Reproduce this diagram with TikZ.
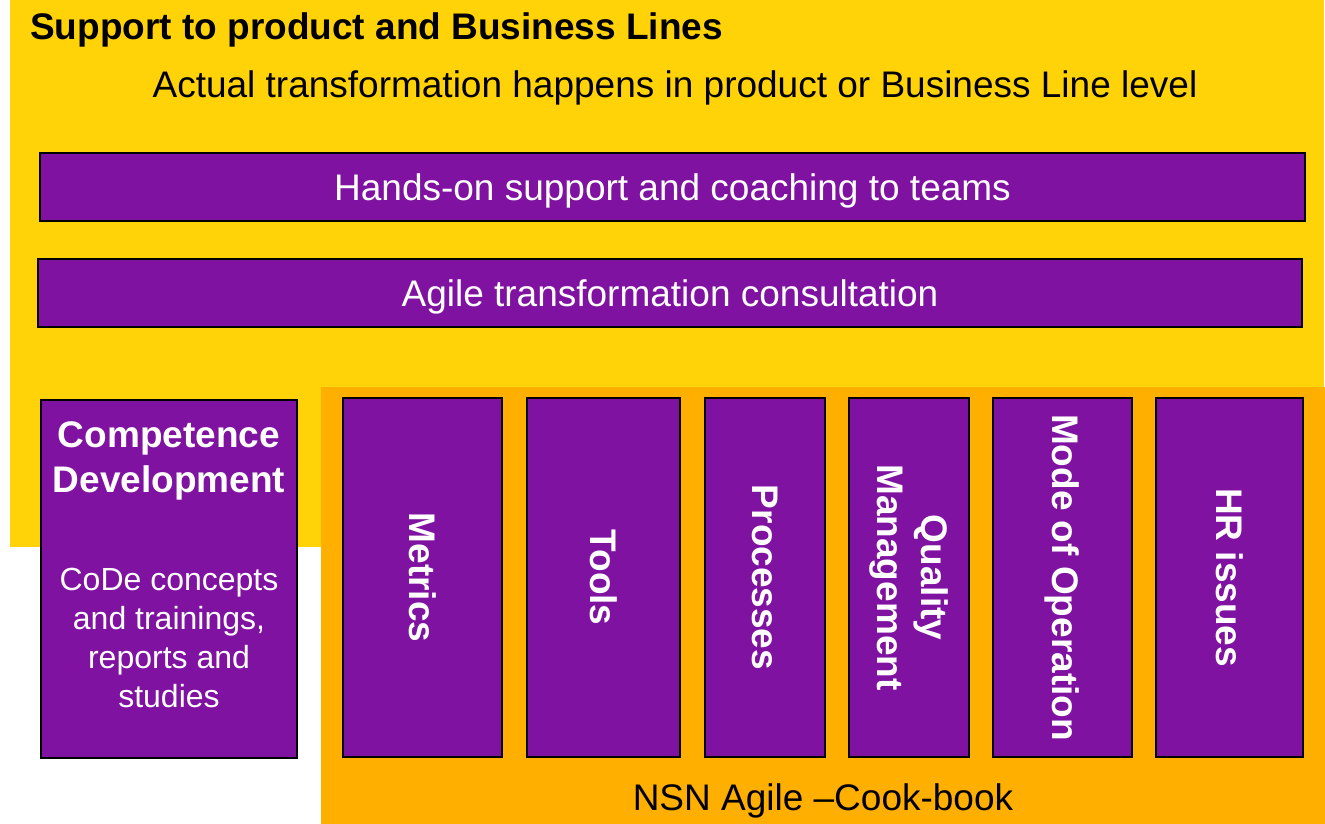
\documentclass[tikz,border=0pt]{standalone}
\usepackage{fontspec}
\setmainfont{Liberation Sans}
\definecolor{banneryellow}{RGB}{255,211,8}
\definecolor{cookorange}{RGB}{255,175,0}
\definecolor{boxpurple}{RGB}{127,18,160}
\newcommand{\bigtext}{\fontsize{37}{44}\selectfont}
\newcommand{\bodytext}{\fontsize{32}{39}\selectfont}
\begin{document}
\begin{tikzpicture}[x=1pt,y=-1pt,
  panel/.style={draw=black,line width=2pt,fill=boxpurple,text=white,inner sep=0pt},
  wide/.style={panel,minimum height=68pt,font=\bigtext,text depth=0pt},
  col/.style={panel,rotate=-90,minimum width=359pt,font=\bigtext\bfseries,align=center},
  plain/.style={inner sep=0pt,font=\bigtext}]
\useasboundingbox (0,0) rectangle (1325,824);
% background areas
\fill[banneryellow] (10,0) rectangle (1324,547);
\fill[cookorange] (321,387) rectangle (1325,824);
% headings
\node[plain,anchor=base west,font=\bigtext\bfseries] (title) at (30,40) {Support to product and Business Lines};
\node[plain,anchor=base] (subtitle) at (675,98) {Actual transformation happens in product or Business Line level};
% horizontal bands
\node[wide,minimum width=1265pt] (handson) at (672.5,187) {Hands-on support and coaching to teams};
\node[wide,minimum width=1264pt] (consult) at (670,293) {Agile transformation consultation};
% competence development
\node[panel,minimum width=256pt,minimum height=358pt] (code) at (169,579) {};
\node[plain,text=white,font=\bigtext\bfseries,align=center,
  execute at begin node={\setlength{\baselineskip}{45pt}}] (codehead) at (169,461) {Competence\\Development};
\node[plain,text=white,font=\bodytext,align=center] (codebody) at (169,638) {CoDe concepts\\and trainings,\\reports and\\studies};
% cook-book columns
\node[col,minimum height=159pt] (metrics) at (422.5,577.5) {Metrics};
\node[col,minimum height=153pt] (tools) at (603.5,577.5) {Tools};
\node[col,minimum height=120pt] (processes) at (765,577.5) {Processes};
\node[col,minimum height=120pt] (quality) at (909,577.5) {Quality\\Management};
\node[col,minimum height=139pt] (mode) at (1062.5,577.5) {Mode of Operation};
\node[col,minimum height=147pt] (hr) at (1229.5,577.5) {HR issues};
\node[plain,anchor=center,text depth=0pt] (cookbook) at (823,797) {NSN Agile –Cook-book};
\end{tikzpicture}
\end{document}
